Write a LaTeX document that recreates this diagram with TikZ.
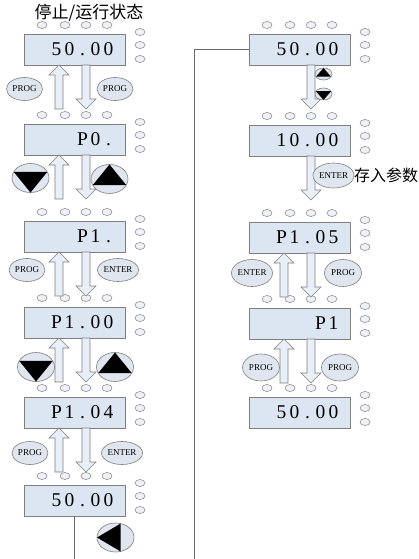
\documentclass[tikz,border=0pt]{standalone}
\usepackage{fontspec}
\setmainfont{Liberation Serif}
\newfontfamily\cjk{Noto Sans CJK SC}
\usetikzlibrary{calc,shapes.geometric}
\definecolor{boxfill}{HTML}{DCE6F2}
\definecolor{arrfill}{HTML}{E9EFF8}
\definecolor{btnfill}{HTML}{E0E6EF}
\definecolor{ledfill}{HTML}{EEF2F8}
\definecolor{edge}{HTML}{7F7F7F}
\definecolor{wirec}{HTML}{6A6A6A}
\newcommand\cc[1]{\makebox[13pt]{#1}}
\tikzset{
  box/.style={draw=edge,fill=boxfill,line width=0.7pt,minimum width=101pt,minimum height=31pt,
    text width=81pt,align=right,inner xsep=10pt,inner ysep=0pt,outer sep=0pt,
    font=\fontsize{19.5}{19.5}\selectfont},
  led/.style={ellipse,draw=edge,fill=ledfill,line width=0.5pt,minimum width=10pt,minimum height=7pt,inner sep=0pt,outer sep=0pt},
  btn/.style={ellipse,draw=edge,fill=btnfill,line width=0.6pt,minimum width=36pt,minimum height=23pt,
    inner sep=0pt,outer sep=0pt,font=\fontsize{9}{9}\selectfont},
  rbtn/.style={btn,minimum width=37pt,minimum height=27pt},
  tbtn/.style={ellipse,draw=edge,fill=btnfill,line width=0.6pt,minimum width=37pt,minimum height=29pt,inner sep=0pt,outer sep=0pt},
  sbtn/.style={tbtn,minimum width=17pt,minimum height=12pt},
  barrow/.style={draw=edge,fill=arrfill,line width=0.6pt,line join=miter},
  wire/.style={draw=wirec,line width=0.8pt},
}
\newcommand\ledset[1]{%
  \foreach \dx in {18,41,62,83} {\node[led] (#1-t\dx) at ($(#1.north west)+(\dx,-9)$) {};}
  \foreach \dy [count=\i] in {-2,11,25} {\node[led] (#1-r\i) at ($(#1.north west)+(116,\dy)$) {};}
}
\newcommand\uparr[2]{%
  \draw[barrow] let \p1=(#1), \p2=(#2) in (\x1-4pt,\y1) -- (\x1-4pt,\y2-10pt) -- (\x1-10pt,\y2-10pt)
   -- (\x2,\y2) -- (\x1+10pt,\y2-10pt) -- (\x1+4pt,\y2-10pt) -- (\x1+4pt,\y1) -- cycle;}
\newcommand\downarr[2]{%
  \draw[barrow] let \p1=(#1), \p2=(#2) in (\x1-4pt,\y1) -- (\x1-4pt,\y2+10pt) -- (\x1-10pt,\y2+10pt)
   -- (\x2,\y2) -- (\x1+10pt,\y2+10pt) -- (\x1+4pt,\y2+10pt) -- (\x1+4pt,\y1) -- cycle;}
\newcommand\uparrof[1]{\uparr{$(#1.south west)+(35,44)$}{$(#1.south west)+(35,0)$}}
\newcommand\downarrof[1]{\downarr{$(#1.south west)+(62,0)$}{$(#1.south west)+(62,44)$}}
\begin{document}
\begin{tikzpicture}[x=1pt,y=-1pt]
\useasboundingbox (0,0) rectangle (418,559);
% title
\node[font=\cjk\fontsize{17}{17}\selectfont,inner sep=0pt] (title) at (89,13) {停止/运行状态};
% left column boxes
\node[box] (A) at (74.5,49.5) {\cc{5}\cc{0}\cc{.}\cc{0}\cc{0}};
\node[box] (B) at (74.5,139.5) {\cc{P}\cc{0}\cc{.}};
\node[box] (C) at (74.5,236.5) {\cc{P}\cc{1}\cc{.}};
\node[box] (D) at (74.5,322.5) {\cc{P}\cc{1}\cc{.}\cc{0}\cc{0}};
\node[box] (E) at (74.5,412.5) {\cc{P}\cc{1}\cc{.}\cc{0}\cc{4}};
\node[box] (F) at (74.5,500.5) {\cc{5}\cc{0}\cc{.}\cc{0}\cc{0}};
% right column boxes
\node[box] (R1) at (299.5,49.5) {\cc{5}\cc{0}\cc{.}\cc{0}\cc{0}};
\node[box] (R2) at (299.5,140.5) {\cc{1}\cc{0}\cc{.}\cc{0}\cc{0}};
\node[box] (R3) at (299.5,237.5) {\cc{P}\cc{1}\cc{.}\cc{0}\cc{5}};
\node[box] (R4) at (299.5,323.5) {\cc{P}\cc{1}};
\node[box] (R5) at (299.5,412.5) {\cc{5}\cc{0}\cc{.}\cc{0}\cc{0}};
% indicator lamps
\foreach \b in {A,B,C,D,E,F,R1,R2,R3,R4,R5} {\ledset{\b}}
% connecting wires
\coordinate (endF) at (74.5,559);
\coordinate (endR) at (194,559);
\draw[wire] (F.south) -- (endF);
\draw[wire] (R1.west) -| (endR);
% block arrows, left column
\foreach \b in {A,B,C,D,E} {\uparrof{\b}\downarrof{\b}}
% block arrows, right column
\downarrof{R1}
\downarrof{R2}
\uparrof{R3}\downarrof{R3}
\uparrof{R4}\downarrof{R4}
% key buttons, left column
\node[btn] (kA1) at (24.5,89) {PROG};
\node[btn] (kA2) at (115,89) {PROG};
\node[tbtn] (kB1) at (30.5,178) {};
\fill (kB1.160) -- (kB1.20) -- (kB1.south) -- cycle;
\node[tbtn] (kB2) at (109.5,179) {};
\fill (kB2.200) -- (kB2.340) -- (kB2.north) -- cycle;
\node[btn] (kC1) at (27,270) {PROG};
\node[btn] (kC2) at (118,270) {ENTER};
\node[tbtn] (kD1) at (36,367) {};
\fill (kD1.160) -- (kD1.20) -- (kD1.south) -- cycle;
\node[tbtn] (kD2) at (115,367) {};
\fill (kD2.200) -- (kD2.340) -- (kD2.north) -- cycle;
\node[btn] (kE1) at (30,453) {PROG};
\node[btn] (kE2) at (122,453) {ENTER};
\node[tbtn] (kF) at (115.5,537.5) {};
\fill (kF.180) -- (kF.70) -- (kF.290) -- cycle;
% key buttons, right column
\node[sbtn] (kR1a) at (323.5,74) {};
\fill (kR1a.200) -- (kR1a.340) -- (kR1a.north) -- cycle;
\node[sbtn] (kR1b) at (323.5,94) {};
\fill (kR1b.160) -- (kR1b.20) -- (kR1b.south) -- cycle;
\node[btn,minimum width=39pt,minimum height=25pt] (kR2) at (333.5,175.5) {ENTER};
\node[font=\cjk\fontsize{16}{16}\selectfont,inner sep=0pt,anchor=west] (store) at (kR2.east) {存入参数};
\node[rbtn] (kR3a) at (252,273) {ENTER};
\node[rbtn] (kR3b) at (343,273) {PROG};
\node[rbtn] (kR4a) at (261,367.5) {PROG};
\node[rbtn] (kR4b) at (340,367.5) {PROG};
\end{tikzpicture}
\end{document}
